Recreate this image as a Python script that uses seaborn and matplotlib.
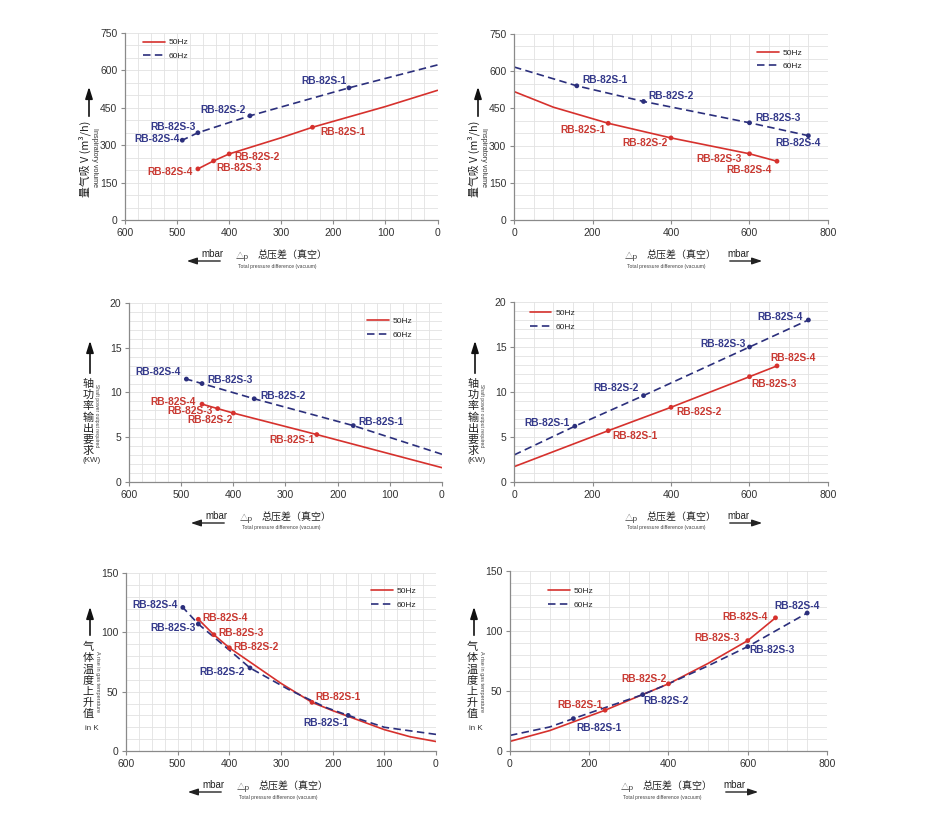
import matplotlib
matplotlib.use("Agg")
import numpy as np
import pandas as pd
import seaborn as sns
import matplotlib.pyplot as plt
from matplotlib.ticker import MultipleLocator

sns.set_theme(style="white")
plt.rcParams["font.family"] = ["Liberation Sans", "Noto Sans CJK SC", "DejaVu Sans"]

# ---------------- data ----------------
freqs = ["50Hz", "60Hz"]
models = ["RB-82S-1", "RB-82S-2", "RB-82S-3", "RB-82S-4"]

# Inspiratory volume, vacuum side (mbar, m3/h)
vol_vac_p_50 = [460, 430, 400, 300, 240, 100, 0]
vol_vac_v_50 = [205, 237, 265, 330, 372, 455, 520]
vol_vac_p_60 = [490, 460, 360, 170, 0]
vol_vac_v_60 = [320, 350, 418, 530, 622]
vol_vac_mp_50 = [240, 400, 430, 460]
vol_vac_mv_50 = [372, 265, 237, 205]
vol_vac_mp_60 = [170, 360, 460, 490]
vol_vac_mv_60 = [530, 418, 350, 320]

# Inspiratory volume, pressure side
vol_prs_p_50 = [0, 100, 240, 400, 600, 670]
vol_prs_v_50 = [518, 455, 390, 331, 267, 237]
vol_prs_p_60 = [0, 160, 330, 600, 750]
vol_prs_v_60 = [617, 541, 478, 392, 340]
vol_prs_mp_50 = [240, 400, 600, 670]
vol_prs_mv_50 = [390, 331, 267, 237]
vol_prs_mp_60 = [160, 330, 600, 750]
vol_prs_mv_60 = [541, 478, 392, 340]

# Shaft power, vacuum side (kW)
pow_vac_p_50 = [460, 430, 400, 240, 0]
pow_vac_v_50 = [8.7, 8.2, 7.7, 5.3, 1.6]
pow_vac_p_60 = [490, 460, 360, 170, 0]
pow_vac_v_60 = [11.5, 11.0, 9.3, 6.3, 3.1]
pow_vac_mp_50 = [240, 400, 430, 460]
pow_vac_mv_50 = [5.3, 7.7, 8.2, 8.7]
pow_vac_mp_60 = [170, 360, 460, 490]
pow_vac_mv_60 = [6.3, 9.3, 11.0, 11.5]

# Shaft power, pressure side
pow_prs_p_50 = [0, 240, 400, 600, 670]
pow_prs_v_50 = [1.7, 5.7, 8.3, 11.7, 12.9]
pow_prs_p_60 = [0, 155, 330, 600, 750]
pow_prs_v_60 = [3.0, 6.2, 9.6, 15.0, 18.0]
pow_prs_mp_50 = [240, 400, 600, 670]
pow_prs_mv_50 = [5.7, 8.3, 11.7, 12.9]
pow_prs_mp_60 = [155, 330, 600, 750]
pow_prs_mv_60 = [6.2, 9.6, 15.0, 18.0]

# Temperature rise, vacuum side (K)
tmp_vac_p_50 = [460, 430, 400, 300, 240, 200, 100, 50, 0]
tmp_vac_v_50 = [111, 98, 87, 57, 41, 34, 18, 12, 8]
tmp_vac_p_60 = [490, 460, 430, 400, 360, 286, 215, 170, 100, 0]
tmp_vac_v_60 = [121, 107, 96, 85, 70, 52, 37, 30, 20, 14]
tmp_vac_mp_50 = [240, 400, 430, 460]
tmp_vac_mv_50 = [41, 87, 98, 111]
tmp_vac_mp_60 = [170, 360, 460, 490]
tmp_vac_mv_60 = [30, 70, 107, 121]

# Temperature rise, pressure side
tmp_prs_p_50 = [0, 100, 240, 400, 500, 600, 670]
tmp_prs_v_50 = [8, 17, 34, 56, 73, 92, 111]
tmp_prs_p_60 = [0, 100, 160, 335, 400, 500, 600, 750]
tmp_prs_v_60 = [13, 20, 27, 47, 56, 71, 87, 115]
tmp_prs_mp_50 = [240, 400, 600, 670]
tmp_prs_mv_50 = [34, 56, 92, 111]
tmp_prs_mp_60 = [160, 335, 600, 750]
tmp_prs_mv_60 = [27, 47, 87, 115]

# axis label texts
vol_label = "量气吸 V (m³/h)"
vol_label_en = "Inspiratory volume"
pow_label = "轴功率输出要求"
pow_label_en = "Shaft power output required"
pow_unit = "(KW)"
tmp_label = "气体温度上升值"
tmp_label_en = "A rise in gas temperature"
tmp_unit = "in K"
x_label_cn = "总压差（真空）"
x_label_en = "Total pressure difference (vacuum)"

# ---------------- style ----------------
W, H = 928, 838
RED, BLUE = "#d6312d", "#2b2f7c"
RED_T, BLUE_T = "#c93a33", "#34398a"
pal = {"50Hz": RED, "60Hz": BLUE}
tcol = {"50Hz": RED_T, "60Hz": BLUE_T}
GRID = "#e2e2e2"
CJK = ["Noto Sans CJK SC", "Liberation Sans", "DejaVu Sans"]

fig = plt.figure(figsize=(W / 100, H / 100), dpi=100)
fig.patch.set_facecolor("white")


def fx(x):
    return x / W


def fy(y):
    return 1 - y / H


def add_ax(l, t, r, b):
    return fig.add_axes([l / W, 1 - b / H, (r - l) / W, (b - t) / H])


def panel(box, c50, c60, m50, m60, xlim, xmaj, xmin, ymaj, ymin, ylim, leg_anchor, offs):
    ax = add_ax(*box)
    df = pd.concat([
        pd.DataFrame({"p": c50[0], "v": c50[1], "freq": "50Hz"}),
        pd.DataFrame({"p": c60[0], "v": c60[1], "freq": "60Hz"}),
    ])
    sns.lineplot(data=df, x="p", y="v", hue="freq", style="freq", palette=pal,
                 dashes={"50Hz": "", "60Hz": (4.5, 2.6)}, lw=1.2, ax=ax,
                 estimator=None, sort=True)
    mk = pd.concat([
        pd.DataFrame({"p": m50[0], "v": m50[1], "freq": "50Hz", "m": models}),
        pd.DataFrame({"p": m60[0], "v": m60[1], "freq": "60Hz", "m": models}),
    ])
    sns.scatterplot(data=mk, x="p", y="v", hue="freq", palette=pal, s=12,
                    edgecolor="none", legend=False, ax=ax, zorder=5)
    for _, r in mk.iterrows():
        i = models.index(r["m"])
        dx, dy, ha = offs[r["freq"]][i]
        ax.annotate(r["m"], (r["p"], r["v"]), xytext=(dx, dy), textcoords="offset pixels",
                    ha=ha, va="center", fontsize=7.4, color=tcol[r["freq"]],
                    fontweight="semibold")
    ax.set_xlim(*xlim)
    ax.set_ylim(*ylim)
    ax.xaxis.set_major_locator(MultipleLocator(xmaj))
    ax.xaxis.set_minor_locator(MultipleLocator(xmin))
    ax.yaxis.set_major_locator(MultipleLocator(ymaj))
    ax.yaxis.set_minor_locator(MultipleLocator(ymin))
    ax.grid(which="both", color=GRID, lw=0.6)
    ax.set_axisbelow(True)
    for s in ["top", "right"]:
        ax.spines[s].set_visible(False)
    for s in ["left", "bottom"]:
        ax.spines[s].set_color("#8a8a8a")
        ax.spines[s].set_linewidth(0.9)
    ax.tick_params(which="major", direction="out", length=3, width=0.8, color="#8a8a8a",
                   labelsize=7.5, labelcolor="#333333", pad=2.5, left=True, bottom=True)
    ax.tick_params(which="minor", length=0)
    ax.set_xlabel("")
    ax.set_ylabel("")
    h, l = ax.get_legend_handles_labels()
    hl = [(hh, ll) for hh, ll in zip(h, l) if ll in freqs]
    ax.legend([x[0] for x in hl], [x[1] for x in hl], loc="upper left",
              bbox_to_anchor=leg_anchor, frameon=False, fontsize=6,
              handlelength=2.6, handletextpad=0.5, labelspacing=0.7, borderpad=0,
              borderaxespad=0)
    return ax


def xlabel(left, bottom, vac):
    fig.text(fx(left + 111), fy(bottom + 36), "△p", fontsize=6, color="#444444", va="center")
    fig.text(fx(left + 133), fy(bottom + 36), x_label_cn, fontsize=7.2, color="#222222",
             va="center", family=CJK)
    fig.text(fx(left + 113), fy(bottom + 46), x_label_en,
             fontsize=3.6, color="#444444", va="center")
    if vac:
        fig.text(fx(left + 87), fy(bottom + 34), "mbar", fontsize=7, ha="center", va="center",
                 color="#222222")
        fig.add_artist(matplotlib.patches.FancyArrowPatch(
            (fx(left + 98), fy(bottom + 41)), (fx(left + 59), fy(bottom + 41)),
            transform=fig.transFigure, arrowstyle="-|>,head_length=6,head_width=2",
            color="#222222", lw=1.0))
    else:
        fig.text(fx(left + 224), fy(bottom + 34), "mbar", fontsize=7, ha="center", va="center",
                 color="#222222")
        fig.add_artist(matplotlib.patches.FancyArrowPatch(
            (fx(left + 213), fy(bottom + 41)), (fx(left + 251), fy(bottom + 41)),
            transform=fig.transFigure, arrowstyle="-|>,head_length=6,head_width=2",
            color="#222222", lw=1.0))


def uparrow(x, y0, y1):
    fig.add_artist(matplotlib.patches.FancyArrowPatch(
        (fx(x), fy(y0)), (fx(x), fy(y1)), transform=fig.transFigure,
        arrowstyle="-|>,head_length=7,head_width=2.2", color="#111111", lw=1.2))


def stacked(x, ytop, text, step=11.2):
    for k, ch in enumerate(text):
        fig.text(fx(x), fy(ytop + k * step), ch, ha="center", va="center", fontsize=8,
                 color="#222222", family=CJK)


# ---------------- panels ----------------
off_vol_vac = {"60Hz": [(-2, 7, "right"), (-4, 6, "right"), (-2, 6, "right"), (-3, 1, "right")],
               "50Hz": [(8, -5, "left"), (5, -3, "left"), (3, -7, "left"), (-5, -3, "right")]}
off_vol_prs = {"60Hz": [(6, 6, "left"), (5, 5, "left"), (6, 5, "left"), (-10, -7, "center")],
               "50Hz": [(-3, -7, "right"), (-3, -5, "right"), (-8, -5, "right"), (-5, -9, "right")]}
off_pow_vac = {"60Hz": [(5, 4, "left"), (6, 3, "left"), (5, 4, "left"), (-6, 7, "right")],
               "50Hz": [(-2, -5, "right"), (-1, -7, "right"), (-5, -2, "right"), (-6, 2, "right")]}
off_pow_prs = {"60Hz": [(-5, 3, "right"), (-5, 8, "right"), (-4, 3, "right"), (-6, 3, "right")],
               "50Hz": [(4, -5, "left"), (5, -5, "left"), (2, -7, "left"), (-7, 8, "left")]}
off_tmp_vac = {"60Hz": [(0, -8, "right"), (-5, -4, "right"), (-3, -4, "right"), (-5, 2, "right")],
               "50Hz": [(3, 5, "left"), (4, 1, "left"), (5, 2, "left"), (4, 1, "left")]}
off_tmp_prs = {"60Hz": [(3, -9, "left"), (1, -6, "left"), (2, -3, "left"), (-10, 7, "center")],
               "50Hz": [(-2, 5, "right"), (-2, 5, "right"), (-8, 3, "right"), (-8, 1, "right")]}

panel((125, 33, 437.5, 220), (vol_vac_p_50, vol_vac_v_50), (vol_vac_p_60, vol_vac_v_60),
      (vol_vac_mp_50, vol_vac_mv_50), (vol_vac_mp_60, vol_vac_mv_60),
      (600, 0), 100, 25, 150, 50, (0, 750), (0.058, 0.97), off_vol_vac)
panel((514, 34, 828, 220), (vol_prs_p_50, vol_prs_v_50), (vol_prs_p_60, vol_prs_v_60),
      (vol_prs_mp_50, vol_prs_mv_50), (vol_prs_mp_60, vol_prs_mv_60),
      (0, 800), 200, 50, 150, 50, (0, 750), (0.774, 0.92), off_vol_prs)
panel((129, 303, 442, 482), (pow_vac_p_50, pow_vac_v_50), (pow_vac_p_60, pow_vac_v_60),
      (pow_vac_mp_50, pow_vac_mv_50), (pow_vac_mp_60, pow_vac_mv_60),
      (600, 0), 100, 25, 5, 1, (0, 20), (0.76, 0.92), off_pow_vac)
panel((514, 302, 828, 482), (pow_prs_p_50, pow_prs_v_50), (pow_prs_p_60, pow_prs_v_60),
      (pow_prs_mp_50, pow_prs_mv_50), (pow_prs_mp_60, pow_prs_mv_60),
      (0, 800), 200, 50, 5, 1, (0, 20), (0.05, 0.96), off_pow_prs)
panel((126, 573, 436, 751), (tmp_vac_p_50, tmp_vac_v_50), (tmp_vac_p_60, tmp_vac_v_60),
      (tmp_vac_mp_50, tmp_vac_mv_50), (tmp_vac_mp_60, tmp_vac_mv_60),
      (600, 0), 100, 25, 50, 10, (0, 150), (0.79, 0.92), off_tmp_vac)
panel((510, 571, 827, 751), (tmp_prs_p_50, tmp_prs_v_50), (tmp_prs_p_60, tmp_prs_v_60),
      (tmp_prs_mp_50, tmp_prs_mv_50), (tmp_prs_mp_60, tmp_prs_mv_60),
      (0, 800), 200, 50, 50, 10, (0, 150), (0.12, 0.91), off_tmp_prs)

xlabel(125, 220, True)
xlabel(514, 220, False)
xlabel(129, 482, True)
xlabel(514, 482, False)
xlabel(126, 751, True)
xlabel(510, 751, False)

# y labels: volume
for left in (125, 514):
    uparrow(left - 36, 119, 84)
    fig.text(fx(left - 40), fy(159), vol_label, rotation=90, ha="center", va="center",
             fontsize=7.8, color="#222222", family=CJK)
    fig.text(fx(left - 30), fy(158), vol_label_en, rotation=270, ha="center",
             va="center", fontsize=5.2, color="#333333")
# y labels: power
for left in (129, 514):
    uparrow(left - 39, 376, 338)
    stacked(left - 41, 384, pow_label)
    fig.text(fx(left - 32), fy(416), pow_label_en, rotation=270, ha="center",
             va="center", fontsize=3.6, color="#444444")
    fig.text(fx(left - 37), fy(460), pow_unit, ha="center", va="center", fontsize=5.8,
             color="#333333")
# y labels: temperature
for left in (126, 510):
    uparrow(left - 36, 638, 604)
    stacked(left - 38, 647, tmp_label)
    fig.text(fx(left - 28), fy(681), tmp_label_en, rotation=270, ha="center",
             va="center", fontsize=4.0, color="#444444")
    fig.text(fx(left - 34), fy(728), tmp_unit, ha="center", va="center", fontsize=5.8,
             color="#333333")

fig.savefig("out.png", dpi=100, facecolor="white")
